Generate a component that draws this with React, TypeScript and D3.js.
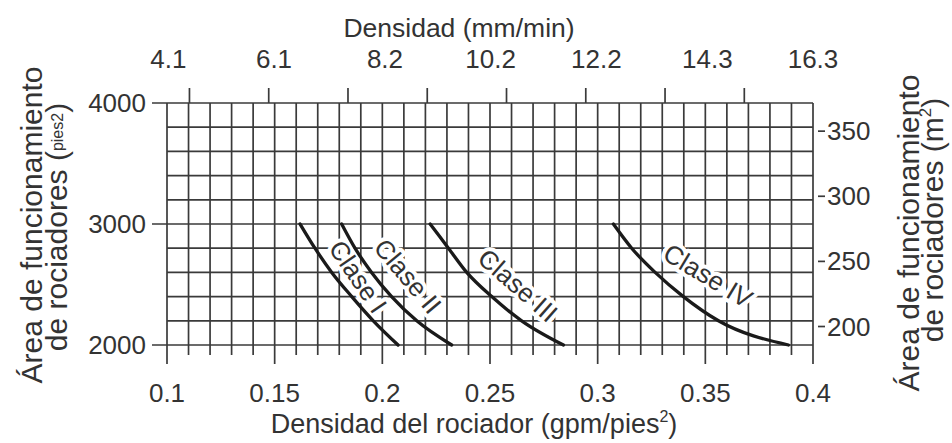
import * as d3 from "d3";
import React, { useEffect, useRef } from "react";

// sprinkler area (pies²) where each curve was read
const areas = [3000, 2800, 2600, 2400, 2200, 2000];
// density (gpm/pies²) per class at those areas
const claseI = [0.1618, 0.1687, 0.1765, 0.1858, 0.1958, 0.2073];
const claseII = [0.1811, 0.1873, 0.195, 0.2043, 0.216, 0.2322];
const claseIII = [0.2222, 0.2307, 0.2392, 0.2508, 0.2647, 0.2841];
const claseIV = [0.3073, 0.3158, 0.3267, 0.3398, 0.3561, 0.3886];
const classNames = ["Clase I", "Clase II", "Clase III", "Clase IV"];
// where the class names sit (data units) and their tilt
const labelGpm = [0.1864, 0.2097, 0.2611, 0.3498];
const labelArea = [2537, 2537, 2455, 2529];
const labelTilt = [55.7, 50, 41.3, 31];

const gpmTicks = [0.1, 0.15, 0.2, 0.25, 0.3, 0.35, 0.4];
const areaTicks = [2000, 3000, 4000];
const mmTickMarks = [4.5, 6, 7.5, 9, 10.5, 12, 13.5, 15];
const mmTickLabels = ["4.1", "6.1", "8.2", "10.2", "12.2", "14.3", "16.3"];
const m2Ticks = [200, 250, 300, 350];

const GPM_TO_MM = 40.75;
const M2_TO_FT2 = 10.7639;

export default function App() {
  const ref = useRef<SVGSVGElement>(null);

  useEffect(() => {
    const svg = d3.select(ref.current);
    svg.selectAll("*").remove();

    const x = d3.scaleLinear().domain([0.1, 0.4]).range([167, 813]);
    const y = d3.scaleLinear().domain([2000, 4000]).range([345, 103]);
    const xMm = d3
      .scaleLinear()
      .domain([0.1 * GPM_TO_MM, 0.4 * GPM_TO_MM])
      .range(x.range());
    const yM2 = d3
      .scaleLinear()
      .domain([2000 / M2_TO_FT2, 4000 / M2_TO_FT2])
      .range(y.range());

    const ink = "#333";
    const font = "'Liberation Sans', Arial, Helvetica, sans-serif";
    svg.attr("font-family", font);

    // grid
    const grid = svg.append("g").attr("stroke", "#3a3a3a").attr("stroke-width", 1.7);
    const cols = d3.range(0, 31).map((i) => +(0.1 + i * 0.01).toFixed(2));
    grid
      .append("g")
      .selectAll("line")
      .data(cols)
      .join("line")
      .attr("x1", (d) => x(d))
      .attr("x2", (d) => x(d))
      .attr("y1", y(4000))
      .attr("y2", (d, i) => y(2000) + (i % 5 === 0 ? 19 : 10));
    const rows = d3.range(2000, 4001, 200);
    grid
      .append("g")
      .selectAll("line")
      .data(rows)
      .join("line")
      .attr("x1", (d) => (areaTicks.includes(d) ? x(0.1) - 15 : x(0.1)))
      .attr("x2", x(0.4))
      .attr("y1", (d) => y(d))
      .attr("y2", (d) => y(d));

    // top ticks (mm/min)
    grid
      .append("g")
      .selectAll("line")
      .data(mmTickMarks)
      .join("line")
      .attr("x1", (d) => xMm(d))
      .attr("x2", (d) => xMm(d))
      .attr("y1", y(4000) - 15)
      .attr("y2", y(4000));

    // right ticks (m²)
    grid
      .append("g")
      .selectAll("line")
      .data(m2Ticks)
      .join("line")
      .attr("x1", x(0.4) + 5)
      .attr("x2", x(0.4) + 12)
      .attr("y1", (d) => yM2(d))
      .attr("y2", (d) => yM2(d));

    // curves
    const series = [claseI, claseII, claseIII, claseIV].map((vals) =>
      vals.map((v, i) => [v, areas[i]] as [number, number])
    );
    const line = d3
      .line<[number, number]>()
      .x((d) => x(d[0]))
      .y((d) => y(d[1]))
      .curve(d3.curveMonotoneX);

    // class labels with a white halo that breaks the grid
    svg
      .append("g")
      .selectAll("text")
      .data(classNames)
      .join("text")
      .attr(
        "transform",
        (d, i) => `translate(${x(labelGpm[i])},${y(labelArea[i])}) rotate(${labelTilt[i]})`
      )
      .attr("dy", -6)
      .attr("text-anchor", "middle")
      .attr("dominant-baseline", "central")
      .attr("font-size", 26)
      .attr("fill", ink)
      .attr("stroke", "#fff")
      .attr("stroke-width", 8)
      .attr("stroke-linejoin", "round")
      .attr("paint-order", "stroke")
      .text((d) => d);

    svg
      .append("g")
      .selectAll("path")
      .data(series)
      .join("path")
      .attr("d", (d) => line(d))
      .attr("fill", "none")
      .attr("stroke", "#1a1a1a")
      .attr("stroke-width", 3.3)
      .attr("stroke-linecap", "round");

    // tick labels
    const txt = svg.append("g").attr("fill", ink).attr("font-size", 26);
    txt
      .selectAll("text.b")
      .data(gpmTicks)
      .join("text")
      .attr("class", "b")
      .attr("x", (d) => x(d))
      .attr("y", 402)
      .attr("text-anchor", "middle")
      .text((d) => String(d));
    txt
      .selectAll("text.t")
      .data(mmTickLabels)
      .join("text")
      .attr("class", "t")
      .attr("x", (d) => xMm(+d))
      .attr("y", 68)
      .attr("text-anchor", "middle")
      .text((d) => d);
    txt
      .selectAll("text.l")
      .data(areaTicks)
      .join("text")
      .attr("class", "l")
      .attr("x", 146)
      .attr("y", (d) => y(d))
      .attr("dy", "0.35em")
      .attr("text-anchor", "end")
      .text((d) => String(d));
    txt
      .selectAll("text.r")
      .data(m2Ticks)
      .join("text")
      .attr("class", "r")
      .attr("x", x(0.4) + 14)
      .attr("y", (d) => yM2(d))
      .attr("dy", "0.35em")
      .attr("text-anchor", "start")
      .text((d) => String(d));

    // axis titles
    const titles = svg.append("g").attr("fill", ink).attr("text-anchor", "middle");
    titles
      .append("text")
      .attr("x", 459)
      .attr("y", 37)
      .attr("font-size", 26.5)
      .text("Densidad (mm/min)");

    const bottom = titles
      .append("text")
      .attr("x", 474)
      .attr("y", 433)
      .attr("font-size", 27);
    bottom.append("tspan").text("Densidad del rociador (gpm/pies");
    bottom.append("tspan").attr("font-size", 16).attr("dy", -11).text("2");
    bottom.append("tspan").attr("dy", 11).text(")");

    titles
      .append("text")
      .attr("transform", "translate(42,225) rotate(-90)")
      .attr("font-size", 30)
      .text("Área de funcionamiento");
    const left2 = titles
      .append("text")
      .attr("transform", "translate(67,227) rotate(-90)")
      .attr("font-size", 30);
    left2.append("tspan").text("de rociadores (");
    left2.append("tspan").attr("font-size", 16).attr("dy", -4).text("pies2");
    left2.append("tspan").attr("dy", 4).text(")");

    titles
      .append("text")
      .attr("transform", "translate(919,233) rotate(-90)")
      .attr("font-size", 30)
      .text("Área de funcionamiento");
    const right2 = titles
      .append("text")
      .attr("transform", "translate(943,220) rotate(-90)")
      .attr("font-size", 30);
    right2.append("tspan").text("de rociadores (m");
    right2.append("tspan").attr("font-size", 17).attr("dy", -12).text("2");
    right2.append("tspan").attr("dy", 12).text(")");
  }, []);

  return (
    <svg
      ref={ref}
      width={952}
      height={443}
      style={{ position: "absolute", left: 0, top: 0, background: "#fff" }}
    />
  );
}
